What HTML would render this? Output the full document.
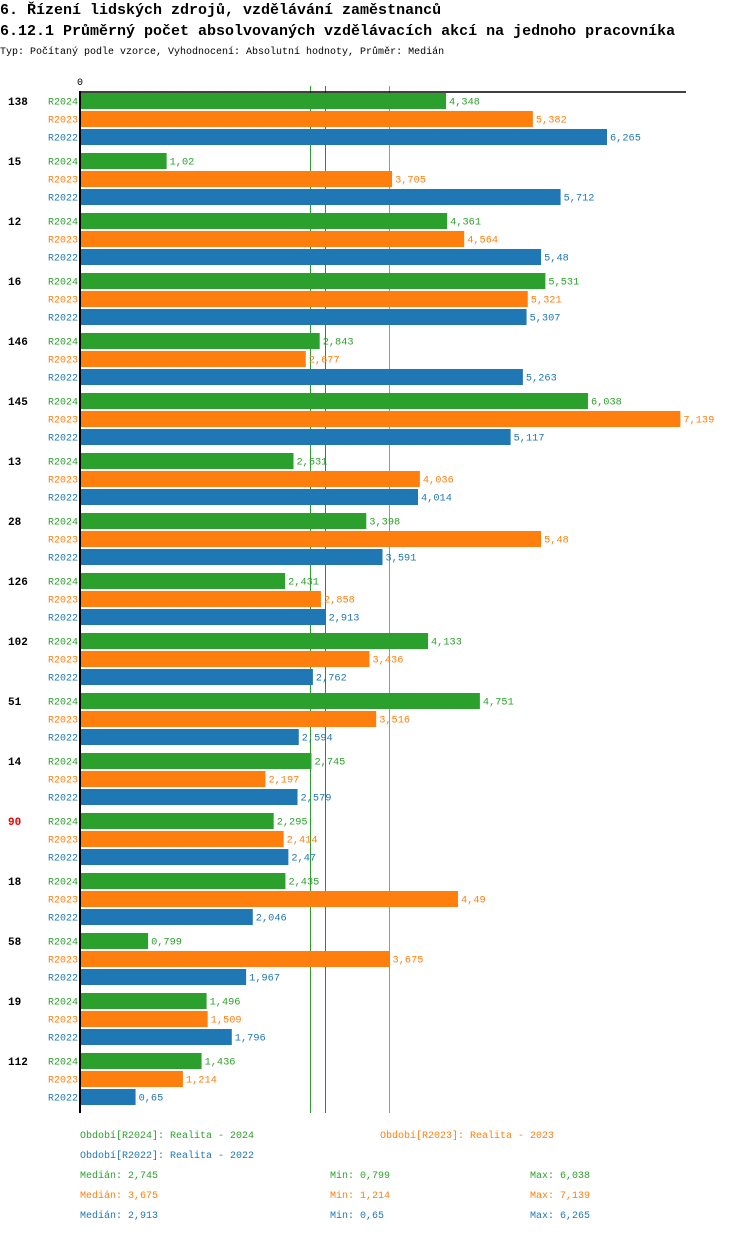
<!DOCTYPE html>
<html><head><meta charset="utf-8"><style>
body{margin:0;background:#fff;width:750px;height:1232px;overflow:hidden;font-family:"Liberation Mono","DejaVu Sans Mono",monospace}
svg text{font-family:"Liberation Mono","DejaVu Sans Mono",monospace}
</style></head><body>
<svg id="c" width="750" height="1232">
<text x="0" y="14" font-size="15" font-weight="bold">6. Řízení lidských zdrojů, vzdělávání zaměstnanců</text>
<text x="0" y="35" font-size="15" font-weight="bold">6.12.1 Průměrný počet absolvovaných vzdělávacích akcí na jednoho pracovníka</text>
<text x="0" y="54" font-size="10">Typ: Počítaný podle vzorce, Vyhodnocení: Absolutní hodnoty, Průměr: Medián</text>
<text x="77" y="85" font-size="10">0</text>
</svg>
<script>
const categories=["138","15","12","16","146","145","13","28","126","102","51","14","90","18","58","19","112"];
const series=["R2024","R2023","R2022"];
const v2024=[4.348,1.02,4.361,5.531,2.843,6.038,2.531,3.398,2.431,4.133,4.751,2.745,2.295,2.435,0.799,1.496,1.436];
const v2023=[5.382,3.705,4.564,5.321,2.677,7.139,4.036,5.48,2.858,3.436,3.516,2.197,2.414,4.49,3.675,1.509,1.214];
const v2022=[6.265,5.712,5.48,5.307,5.263,5.117,4.014,3.591,2.913,2.762,2.594,2.579,2.47,2.046,1.967,1.796,0.65];
const medians=[2.745,3.675,2.913];
const mins=[0.799,1.214,0.65];
const maxs=[6.038,7.139,6.265];
const legendNames=["Období[R2024]: Realita - 2024","Období[R2023]: Realita - 2023","Období[R2022]: Realita - 2022"];
const colors=["#2ca02c","#ff7f0e","#1f77b4"];
const NS="http://www.w3.org/2000/svg";
const svg=document.getElementById('c');
const x=v=>81+v*83.96;
const fmt=v=>String(v).replace('.',',');
function el(t,a,txt){const e=document.createElementNS(NS,t);for(const k in a)e.setAttribute(k,a[k]);if(txt!==undefined)e.textContent=txt;svg.appendChild(e);return e;}
const vals=[v2024,v2023,v2022];
medians.forEach((m,j)=>{
  const xx=Math.round(x(m))-0.5;
  const l=el('line',{x1:xx,x2:xx,y1:86,y2:1113,stroke:colors[j],'stroke-width':1,'shape-rendering':'crispEdges'});
  
  
});
categories.forEach((c,i)=>{
  const gy=93+i*60;
  const t=el('text',{x:8,y:gy+12,'font-size':11,'font-weight':'bold',fill:c==="90"?"#e00":"#000"},c);
  
  
  series.forEach((s,j)=>{
    const y=gy+j*18;
    const l=el('text',{x:78,y:y+11.5,'font-size':10,'text-anchor':'end',fill:colors[j]},s);
    
    
    const r=el('rect',{x:81,y:y,width:x(vals[j][i])-81,height:16,fill:colors[j]});
    
    
    const vt=el('text',{x:x(vals[j][i])+3,y:y+11.5,'font-size':10.3,fill:colors[j]},fmt(vals[j][i]));
    
    
  });
});
const ax=el('line',{x1:80,x2:80,y1:91,y2:1113,stroke:'#000','stroke-width':2});


const tx=el('line',{x1:79,x2:686,y1:92,y2:92,stroke:'#000','stroke-width':1.5});


const lp=[[80,1138],[380,1138],[80,1158]];
legendNames.forEach((n,j)=>{
  const t=el('text',{x:lp[j][0],y:lp[j][1],'font-size':10,fill:colors[j]},n);
  
  
});
[0,1,2].forEach(j=>{
  const y=1178+j*20;
  const a=el('text',{x:80,y:y,'font-size':10,fill:colors[j]},'Medián: '+fmt(medians[j]));
  
  
  const b=el('text',{x:330,y:y,'font-size':10,fill:colors[j]},'Min: '+fmt(mins[j]));
  
  
  const c=el('text',{x:530,y:y,'font-size':10,fill:colors[j]},'Max: '+fmt(maxs[j]));
  
  
});
</script>
</body></html>
